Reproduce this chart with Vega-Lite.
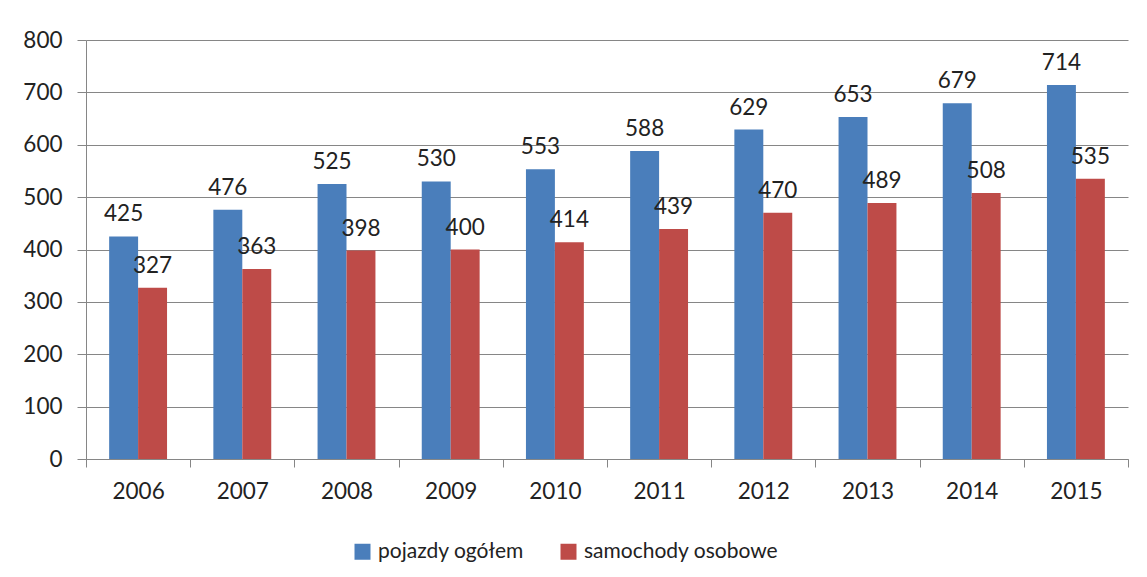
{
  "$schema": "https://vega.github.io/schema/vega-lite/v6.json",
  "width": 1042,
  "height": 419,
  "autosize": {"type": "none"},
  "padding": {"left": 86, "top": 40, "right": 19, "bottom": 118},
  "background": "white",
  "config": {"view": {"stroke": null}, "font": "Lato"},
  "data": {
    "values": [
      {"year": "2006", "series": "pojazdy ogółem", "value": 425},
      {"year": "2006", "series": "samochody osobowe", "value": 327},
      {"year": "2007", "series": "pojazdy ogółem", "value": 476},
      {"year": "2007", "series": "samochody osobowe", "value": 363},
      {"year": "2008", "series": "pojazdy ogółem", "value": 525},
      {"year": "2008", "series": "samochody osobowe", "value": 398},
      {"year": "2009", "series": "pojazdy ogółem", "value": 530},
      {"year": "2009", "series": "samochody osobowe", "value": 400},
      {"year": "2010", "series": "pojazdy ogółem", "value": 553},
      {"year": "2010", "series": "samochody osobowe", "value": 414},
      {"year": "2011", "series": "pojazdy ogółem", "value": 588},
      {"year": "2011", "series": "samochody osobowe", "value": 439},
      {"year": "2012", "series": "pojazdy ogółem", "value": 629},
      {"year": "2012", "series": "samochody osobowe", "value": 470},
      {"year": "2013", "series": "pojazdy ogółem", "value": 653},
      {"year": "2013", "series": "samochody osobowe", "value": 489},
      {"year": "2014", "series": "pojazdy ogółem", "value": 679},
      {"year": "2014", "series": "samochody osobowe", "value": 508},
      {"year": "2015", "series": "pojazdy ogółem", "value": 714},
      {"year": "2015", "series": "samochody osobowe", "value": 535}
    ]
  },
  "encoding": {
    "x": {
      "field": "year",
      "type": "nominal",
      "scale": {"paddingInner": 0, "paddingOuter": 0},
      "axis": {
        "title": null,
        "labelAngle": 0,
        "tickBand": "extent",
        "domainColor": "#868686",
        "tickColor": "#868686",
        "tickSize": 8,
        "labelPadding": 13,
        "labelFontSize": 22.5,
        "labelFont": "Lato",
        "labelColor": "#222222",
        "grid": false
      }
    },
    "xOffset": {
      "field": "series",
      "type": "nominal",
      "scale": {"domain": ["pojazdy ogółem", "samochody osobowe"], "paddingInner": 0, "paddingOuter": 0.8}
    },
    "y": {
      "field": "value",
      "type": "quantitative",
      "scale": {"domain": [0, 800]},
      "axis": {
        "title": null,
        "values": [0, 100, 200, 300, 400, 500, 600, 700, 800],
        "grid": true,
        "gridColor": "#868686",
        "domainColor": "#868686",
        "tickColor": "#868686",
        "tickSize": 9,
        "labelPadding": 15,
        "labelFontSize": 22.5,
        "labelFont": "Lato",
        "labelColor": "#222222"
      }
    }
  },
  "layer": [
    {
      "mark": {"type": "bar"},
      "encoding": {
        "color": {
          "field": "series",
          "type": "nominal",
          "scale": {"domain": ["pojazdy ogółem", "samochody osobowe"], "range": ["#4a7ebb", "#be4b48"]},
          "legend": {
            "title": null,
            "orient": "none",
            "legendX": 266,
            "legendY": 501,
            "direction": "horizontal",
            "symbolType": "square",
            "symbolSize": 256,
            "symbolStrokeWidth": 0,
            "symbolOpacity": 1,
            "labelFontSize": 21,
            "labelFont": "Lato",
            "labelColor": "#222222",
            "labelLimit": 400,
            "columnPadding": 34,
            "labelOffset": 5
          }
        }
      }
    },
    {
      "mark": {"type": "text", "baseline": "alphabetic", "dy": -15, "fontSize": 22.5, "font": "Lato", "color": "#222222"},
      "encoding": {"text": {"field": "value", "type": "quantitative"}}
    }
  ]
}
